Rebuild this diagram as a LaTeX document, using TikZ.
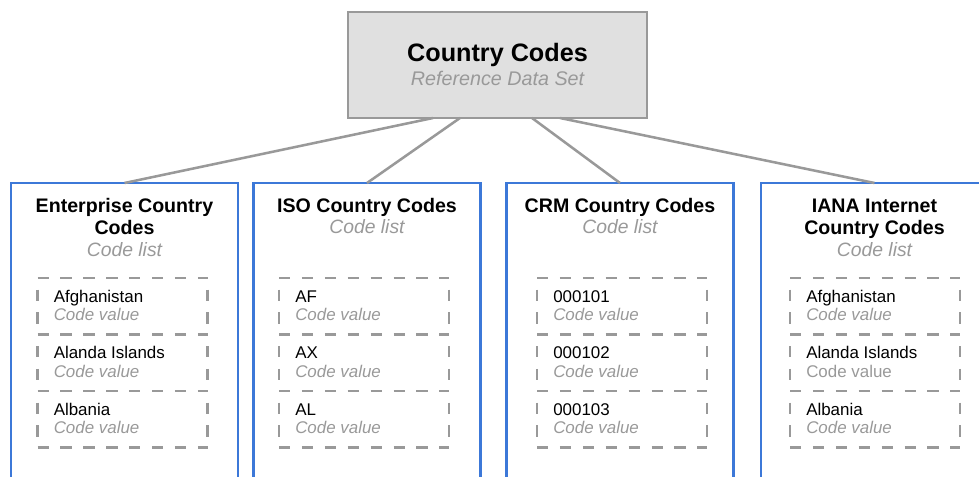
\documentclass[tikz,border=0pt]{standalone}
\usepackage{fontspec}
\setmainfont{Liberation Sans}
\usetikzlibrary{calc}
\definecolor{boxblue}{HTML}{3C78D8}
\definecolor{linegray}{HTML}{999999}
\definecolor{txtgray}{HTML}{999999}
\definecolor{rootfill}{HTML}{E0E0E0}
\tikzset{
  rootbox/.style={draw=linegray, fill=rootfill, line width=2pt, minimum width=224.25pt, minimum height=79.5pt, inner sep=0pt, outer sep=0pt},
  listbox/.style={draw=boxblue, line width=2pt, minimum width=170.25pt, minimum height=240pt, inner sep=0pt, outer sep=0pt, anchor=north},
  rowbox/.style={minimum width=127.5pt, minimum height=42.375pt, inner sep=0pt, outer sep=0pt, anchor=north west},
  conn/.style={draw=linegray, line width=1.9pt},
  dashline/.style={draw=linegray, line width=1.8pt, dash pattern=on 8.475pt off 8.7pt},
  dashvert/.style={dashline, dash phase=8.475pt},
  roottitle/.style={inner sep=0pt, anchor=base, font=\bfseries\fontsize{18.9}{22}\selectfont},
  rootsub/.style={inner sep=0pt, anchor=base, text=txtgray, font=\itshape\fontsize{14.8}{18}\selectfont},
  listtitle/.style={inner sep=0pt, anchor=base, font=\bfseries\fontsize{14.7}{17}\selectfont},
  listsub/.style={inner sep=0pt, anchor=base, text=txtgray, font=\itshape\fontsize{14.5}{17}\selectfont},
  rowname/.style={inner sep=0pt, anchor=base west, font=\fontsize{12.7}{15}\selectfont},
  rowval/.style={inner sep=0pt, anchor=base west, text=txtgray, font=\itshape\fontsize{12.7}{15}\selectfont},
  rowvalup/.style={inner sep=0pt, anchor=base west, text=txtgray, font=\fontsize{12.7}{15}\selectfont}
}
% #1 name, #2 left x, #3 top y, #4 text, #5 value style
\newcommand{\coderow}[5]{%
  \node[rowbox] (#1) at (#2,#3) {};
  \node[rowname] (#1n) at ($(#1.north west)+(16,24.3)$) {#4};
  \node[#5] (#1v) at ($(#1.north west)+(16,43)$) {Code value};
  \draw[dashline] (#1.north west) -- (#1.north east);
  \draw[dashvert] (#1.north west) -- (#1.south west);
  \draw[dashvert] (#1.north east) -- (#1.south east);
}
\begin{document}
\begin{tikzpicture}[x=0.75pt,y=-0.75pt]
\useasboundingbox (0,0) rectangle (979,477);
\clip (0,0) rectangle (979,477);

% root
\node[rootbox] (root) at (497.5,65) {};
\node[roottitle] (roott) at (497.5,62) {Country Codes};
\node[rootsub] (roots) at (497.5,86) {Reference Data Set};

% list boxes
\node[listbox] (b1) at (124.5,183) {};
\node[listbox] (b2) at (367,183) {};
\node[listbox] (b3) at (620,183) {};
\node[listbox] (b4) at (874.5,183) {};

% connectors
\draw[conn] ($(root.south west)+(85,0)$) -- (b1.north);
\draw[conn] ($(root.south west)+(112,0)$) -- (b2.north);
\draw[conn] ($(root.south west)+(184,0)$) -- (b3.north);
\draw[conn] ($(root.south west)+(212,0)$) -- (b4.north);

% titles
\node[listtitle] (t1a) at (124.5,212.7) {Enterprise Country};
\node[listtitle] (t1b) at (124.5,234.3) {Codes};
\node[listsub] (s1) at (124.5,256.7) {Code list};

\node[listtitle] (t2) at (367,212.7) {ISO Country Codes};
\node[listsub] (s2) at (367,234) {Code list};

\node[listtitle] (t3) at (620,212.7) {CRM Country Codes};
\node[listsub] (s3) at (620,234) {Code list};

\node[listtitle] (t4a) at (874.5,212.7) {IANA Internet};
\node[listtitle] (t4b) at (874.5,234.3) {Country Codes};
\node[listsub] (s4) at (874.5,256.7) {Code list};

% rows
\coderow{ra1}{37.5}{278}{Afghanistan}{rowval}
\coderow{ra2}{37.5}{334.5}{Alanda Islands}{rowval}
\coderow{ra3}{37.5}{391}{Albania}{rowval}
\draw[dashline] (ra3.south west) -- (ra3.south east);

\coderow{rb1}{279}{278}{AF}{rowval}
\coderow{rb2}{279}{334.5}{AX}{rowval}
\coderow{rb3}{279}{391}{AL}{rowval}
\draw[dashline] (rb3.south west) -- (rb3.south east);

\coderow{rc1}{537}{278}{000101}{rowval}
\coderow{rc2}{537}{334.5}{000102}{rowval}
\coderow{rc3}{537}{391}{000103}{rowval}
\draw[dashline] (rc3.south west) -- (rc3.south east);

\coderow{rd1}{790}{278}{Afghanistan}{rowval}
\coderow{rd2}{790}{334.5}{Alanda Islands}{rowvalup}
\coderow{rd3}{790}{391}{Albania}{rowval}
\draw[dashline] (rd3.south west) -- (rd3.south east);
\end{tikzpicture}
\end{document}
